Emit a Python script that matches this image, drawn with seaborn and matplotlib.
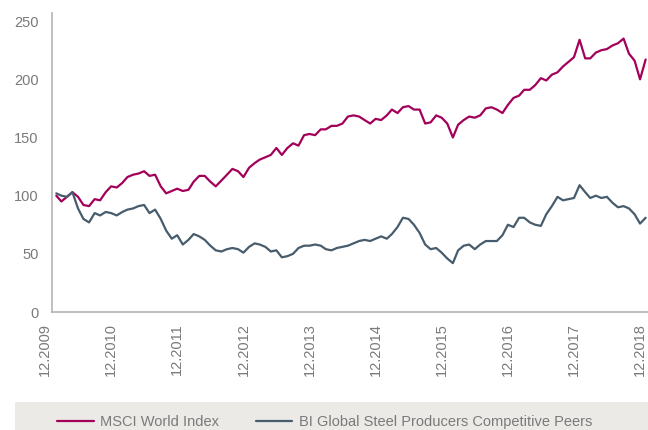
import matplotlib
matplotlib.use("Agg")
import matplotlib.pyplot as plt
import matplotlib.dates as mdates
from matplotlib.patches import Rectangle
import seaborn as sns
import pandas as pd

# monthly readings, Feb 2010 .. Jan 2019 (index 12.2009 = 100)
dates = pd.date_range("2010-02-01", "2019-01-01", freq="MS")

msci_world = [
    100, 95, 99, 103, 99, 92, 91, 97, 96, 103, 108,
    107, 111, 116, 118, 119, 121, 117, 118, 108, 102, 104,
    106, 104, 105, 112, 117, 117, 112, 108, 113, 118, 123, 121,
    116, 124, 128, 131, 133, 135, 141, 135, 141, 145, 143, 152,
    153, 152, 157, 157, 160, 160, 162, 168, 169, 168, 165, 162,
    166, 165, 169, 174, 171, 176, 177, 174, 174, 162, 163, 169,
    167, 162, 150, 161, 165, 168, 167, 169, 175, 176, 174, 171,
    178, 184, 186, 191, 191, 195, 201, 199, 204, 206, 211, 215,
    219, 234, 218, 218, 223, 225, 226, 229, 231, 235, 222, 216,
    200, 217,
]

steel_peers = [
    102, 100, 99, 103, 89, 80, 77, 85, 83, 86, 85,
    83, 86, 88, 89, 91, 92, 85, 88, 80, 70, 63,
    66, 58, 62, 67, 65, 62, 57, 53, 52, 54, 55, 54,
    51, 56, 59, 58, 56, 52, 53, 47, 48, 50, 55, 57,
    57, 58, 57, 54, 53, 55, 56, 57, 59, 61, 62, 61,
    63, 65, 63, 67, 73, 81, 80, 75, 68, 58, 54, 55,
    51, 46, 42, 53, 57, 58, 54, 58, 61, 61, 61, 66,
    75, 73, 81, 81, 77, 75, 74, 84, 91, 99, 96, 97,
    98, 109, 103, 98, 100, 98, 99, 94, 90, 91, 89, 84,
    76, 81,
]

series_names = ["MSCI World Index", "BI Global Steel Producers Competitive Peers"]
tick_years = list(range(2009, 2019))
tick_labels = [f"12.{y}" for y in tick_years]

df = pd.DataFrame({"date": list(dates) * 2,
                   "value": msci_world + steel_peers,
                   "series": [series_names[0]] * len(dates) + [series_names[1]] * len(dates)})

sns.set_theme(style="white")
plt.rcParams["font.family"] = ["Liberation Sans", "DejaVu Sans"]

text_grey = "#7a7a7a"
spine_grey = "#b4b4b4"
palette = {series_names[0]: "#a3005a", series_names[1]: "#475c6c"}

fig = plt.figure(figsize=(6.48, 4.30), dpi=100)
ax = fig.add_axes([40 / 648, 1 - 312 / 430, 608 / 648, (312 - 13) / 430])

sns.lineplot(data=df, x="date", y="value", hue="series", palette=palette,
             linewidth=1.6, ax=ax, legend=False)

x_left = pd.Timestamp("2009-11-03")
x_spine = pd.Timestamp("2010-01-10")
x_right = pd.Timestamp("2019-01-14")
ax.set_xlim(x_left, x_right)
ax.set_ylim(0, 257)

ax.set_yticks([0, 50, 100, 150, 200, 250])
ax.set_xticks([pd.Timestamp(f"{y}-12-01") for y in tick_years])
ax.set_xticklabels(tick_labels, rotation=90)
ax.tick_params(axis="both", length=0, colors=text_grey, labelsize=10.5)
ax.tick_params(axis="x", pad=8)
ax.tick_params(axis="y", pad=10)
ax.set_xlabel("")
ax.set_ylabel("")

for side in ["top", "right"]:
    ax.spines[side].set_visible(False)
ax.spines["left"].set_position(("data", mdates.date2num(x_spine)))
ax.spines["bottom"].set_bounds(mdates.date2num(x_spine), mdates.date2num(x_right))
for side in ["left", "bottom"]:
    ax.spines[side].set_color(spine_grey)
    ax.spines[side].set_linewidth(1.2)

# legend band
fig.patches.append(Rectangle((15 / 648, 0), 1 - 15 / 648, 28 / 430,
                             transform=fig.transFigure, facecolor="#ebeae7",
                             edgecolor="none", zorder=0))
handles = [plt.Line2D([], [], color=palette[n], linewidth=1.6) for n in series_names]
fig.legend(handles, series_names, loc="center left", bbox_to_anchor=(44 / 648, 8 / 430),
           ncol=2, frameon=False, fontsize=10.5, handlelength=2.5, handletextpad=0.45,
           columnspacing=2.5, labelcolor=text_grey)

fig.savefig("out.png", dpi=100)
